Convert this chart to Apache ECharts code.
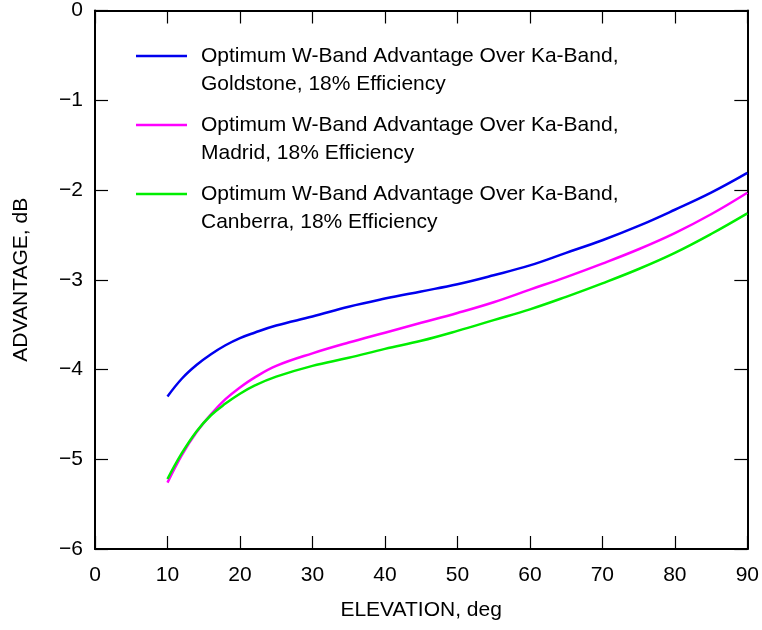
<!DOCTYPE html>
<html><head><meta charset="utf-8">
<script src="https://cdn.jsdelivr.net/npm/echarts@6/dist/echarts.min.js"></script>
<style>html,body{margin:0;padding:0;background:#fff}#c{width:762px;height:630px}</style>
</head><body><div id="c"></div>
<script>
const elevation = [10,12,14,16,18,20,22,25,30,35,40,45,50,55,60,65,70,75,80,85,90];
const goldstone = [-4.30,-4.10,-3.95,-3.83,-3.73,-3.65,-3.59,-3.51,-3.41,-3.30,-3.21,-3.13,-3.05,-2.95,-2.84,-2.70,-2.56,-2.40,-2.22,-2.03,-1.81];
const madrid    = [-5.26,-4.95,-4.70,-4.50,-4.33,-4.20,-4.09,-3.96,-3.82,-3.70,-3.59,-3.48,-3.37,-3.25,-3.11,-2.97,-2.82,-2.66,-2.48,-2.27,-2.03];
const canberra  = [-5.22,-4.93,-4.69,-4.51,-4.38,-4.27,-4.18,-4.08,-3.96,-3.87,-3.77,-3.68,-3.57,-3.45,-3.33,-3.19,-3.04,-2.88,-2.70,-2.49,-2.26];
const seriesNames = [
  ["Optimum W-Band Advantage Over Ka-Band,", "Goldstone, 18% Efficiency"],
  ["Optimum W-Band Advantage Over Ka-Band,", "Madrid, 18% Efficiency"],
  ["Optimum W-Band Advantage Over Ka-Band,", "Canberra, 18% Efficiency"]
];
const colors = ["#0000ee", "#ff00ff", "#00ee00"];
const xTitle = "ELEVATION, deg";
const yTitle = "ADVANTAGE, dB";

const FONT = "Liberation Sans, Arial, Helvetica, sans-serif";
const FS = 21;
const zip = (xs, ys) => xs.map((x, i) => [x, ys[i]]);
const chart = echarts.init(document.getElementById('c'), null, {renderer: 'canvas'});

const legendTops = [56, 125, 194];
const graphics = [];
seriesNames.forEach((nm, i) => {
  graphics.push({type: 'line', shape: {x1: 136, y1: legendTops[i], x2: 187, y2: legendTops[i]},
    style: {stroke: colors[i], lineWidth: 2.5}});
  graphics.push({type: 'text', left: 201, top: legendTops[i] - 14,
    style: {text: nm.join('\n'), font: FS + 'px ' + FONT, fill: '#000', lineHeight: 28}});
});

const axisCommon = {
  axisLine: {show: true, onZero: false, lineStyle: {color: '#000', width: 2}},
  axisTick: {show: true, inside: true, length: 13, lineStyle: {color: '#000', width: 1.2}},
  splitLine: {show: false}
};
const minus = v => String(v).replace('-', '\u2212');

chart.setOption({
  animation: false,
  backgroundColor: '#fff',
  grid: {left: 95, top: 5, right: 9, bottom: 81, containLabel: false},
  xAxis: [
    Object.assign({type: 'value', min: 0, max: 90, interval: 10, position: 'bottom',
      name: xTitle, nameLocation: 'middle', nameGap: 51,
      nameTextStyle: {fontFamily: FONT, fontSize: FS, color: '#000'},
      axisLabel: {fontFamily: FONT, fontSize: FS, color: '#000', margin: 16}}, axisCommon),
    Object.assign({type: 'value', min: 0, max: 90, interval: 10, position: 'top',
      axisLabel: {show: false}}, axisCommon)
  ],
  yAxis: [
    Object.assign({type: 'value', min: -6, max: 0, interval: 1, position: 'left',
      name: yTitle, nameLocation: 'middle', nameGap: 63, nameRotate: 90,
      nameTextStyle: {fontFamily: FONT, fontSize: FS, color: '#000'},
      axisLabel: {fontFamily: FONT, fontSize: FS, color: '#000', margin: 12, formatter: minus}}, axisCommon),
    Object.assign({type: 'value', min: -6, max: 0, interval: 1, position: 'right',
      axisLabel: {show: false}}, axisCommon)
  ],
  series: [goldstone, madrid, canberra].map((d, i) => ({
    type: 'line', data: zip(elevation, d), smooth: 0.4, showSymbol: false,
    lineStyle: {color: colors[i], width: 2.5}, itemStyle: {color: colors[i]}
  })),
  graphic: graphics
});
</script></body></html>
